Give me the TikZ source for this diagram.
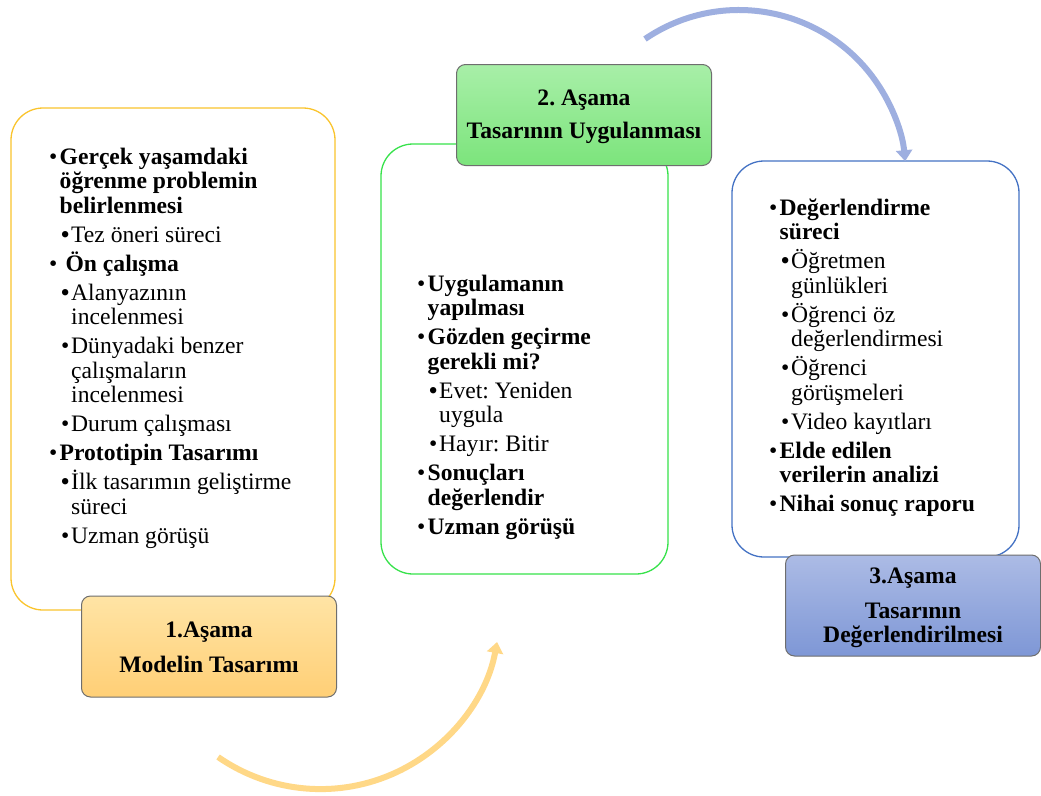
\documentclass[tikz,border=0pt]{standalone}
\usepackage{fontspec}
\setmainfont{Liberation Serif}
\usetikzlibrary{arrows.meta}
\frenchspacing

\definecolor{goldline}{RGB}{250,196,45}
\definecolor{greenline}{RGB}{55,226,75}
\definecolor{blueline}{RGB}{68,114,196}
\definecolor{goldtop}{RGB}{255,228,165}
\definecolor{goldbot}{RGB}{255,207,118}
\definecolor{greentop}{RGB}{168,239,168}
\definecolor{greenbot}{RGB}{124,228,124}
\definecolor{bluetop}{RGB}{172,187,229}
\definecolor{bluebot}{RGB}{126,151,214}
\definecolor{stageedge}{RGB}{110,110,110}
\definecolor{goldarrow}{RGB}{255,216,135}
\definecolor{bluearrow}{RGB}{158,175,224}

% bullet levels: bold main item, regular sub item
\newcommand\pa{\par\leftskip=0pt\hangindent=9.5pt\hangafter=1\noindent
  \makebox[9.5pt][l]{\hspace*{-1pt}\mdseries\textbullet}\bfseries}
\newcommand\pb{\par\leftskip=12.5pt\hangindent=8.5pt\hangafter=1\noindent
  \makebox[8.5pt][l]{\hspace*{-1.5pt}\textbullet}\mdseries}
\newcommand\steplist[1]{\begin{minipage}[t]{290pt}\raggedright\frenchspacing
  \fontsize{23.6}{24.5}\selectfont\setlength\parskip{4.5pt}#1\par\end{minipage}}
\newcommand\stagetxt[1]{\begin{minipage}[t]{250pt}\centering
  \fontsize{23.6}{24.5}\selectfont\bfseries #1\end{minipage}}

\tikzset{
  panel/.style={draw, line width=1.3pt, rounded corners=32pt, inner sep=0pt},
  stage/.style={draw=stageedge, line width=1pt, rounded corners=9pt,
    minimum width=255pt, minimum height=101pt, inner sep=0pt},
  listtext/.style={inner sep=0pt, anchor=base west},
  stagetext/.style={inner sep=0pt, anchor=base},
  cycle arrow/.style={line width=6pt, -{Triangle[width=16pt,length=11pt]}}
}

\begin{document}
\begin{tikzpicture}[x=1pt,y=1pt]
\path[use as bounding box, fill=white] (0,0) rectangle (1041,-795);

% outlined panels
\node[panel, draw=goldline, minimum width=324pt, minimum height=502pt] (p1) at (173,-359) {};
\node[panel, draw=greenline, minimum width=287pt, minimum height=430pt] (p2) at (524.5,-359) {};
\node[panel, draw=blueline, minimum width=287pt, minimum height=396pt] (p3) at (875.5,-359) {};

% stage headings
\node[stage, top color=goldtop, bottom color=goldbot] (s1) at (209,-646.5) {};
\node[stage, top color=greentop, bottom color=greenbot] (s2) at (584,-115) {};
\node[stage, top color=bluetop, bottom color=bluebot] (s3) at (913,-605.5) {};

\node[stagetext] (t1) at (209,-637) {\stagetxt{1.Aşama\\[10.5pt]Modelin Tasarımı}};
\node[stagetext] (t2) at (584,-105) {\stagetxt{2. Aşama\\[8.5pt]Tasarının Uygulanması}};
\node[stagetext] (t3) at (913,-583) {\stagetxt{3.Aşama\\[10.5pt]Tasarının\\Değerlendirilmesi}};

% panel contents
\node[listtext] (l1) at (50,-164) {\steplist{%
  \pa Gerçek yaşamdaki\newline öğrenme problemin\newline belirlenmesi
  \pb Tez öneri süreci
  \pa \ Ön çalışma
  \pb Alanyazının\newline incelenmesi
  \pb Dünyadaki benzer\newline çalışmaların\newline incelenmesi
  \pb Durum çalışması
  \pa Prototipin Tasarımı
  \pb İlk tasarımın geliştirme\newline süreci
  \pb Uzman görüşü}};

\node[listtext] (l2) at (418,-291) {\steplist{%
  \pa Uygulamanın\newline yapılması
  \pa Gözden geçirme\newline gerekli mi?
  \pb Evet: Yeniden\newline uygula
  \pb Hayır: Bitir
  \pa Sonuçları\newline değerlendir
  \pa Uzman görüşü}};

\node[listtext] (l3) at (770,-215) {\steplist{%
  \pa Değerlendirme\newline süreci
  \pb Öğretmen\newline günlükleri
  \pb Öğrenci öz\newline değerlendirmesi
  \pb Öğrenci\newline görüşmeleri
  \pb Video kayıtları
  \pa Elde edilen\newline verilerin analizi
  \pa Nihai sonuç raporu}};

% circular arrows between stages
\coordinate (c1) at (320.5,-609.6);
\coordinate (c2) at (739,-176.9);
\draw[cycle arrow, goldarrow] ([shift={(235.2:179.5)}]c1)
  arc[start angle=235.2, end angle=349.6, radius=179.5];
\draw[cycle arrow, bluearrow] ([shift={(124.3:166.9)}]c2)
  arc[start angle=124.3, end angle=5.4, radius=166.9];
\end{tikzpicture}
\end{document}
